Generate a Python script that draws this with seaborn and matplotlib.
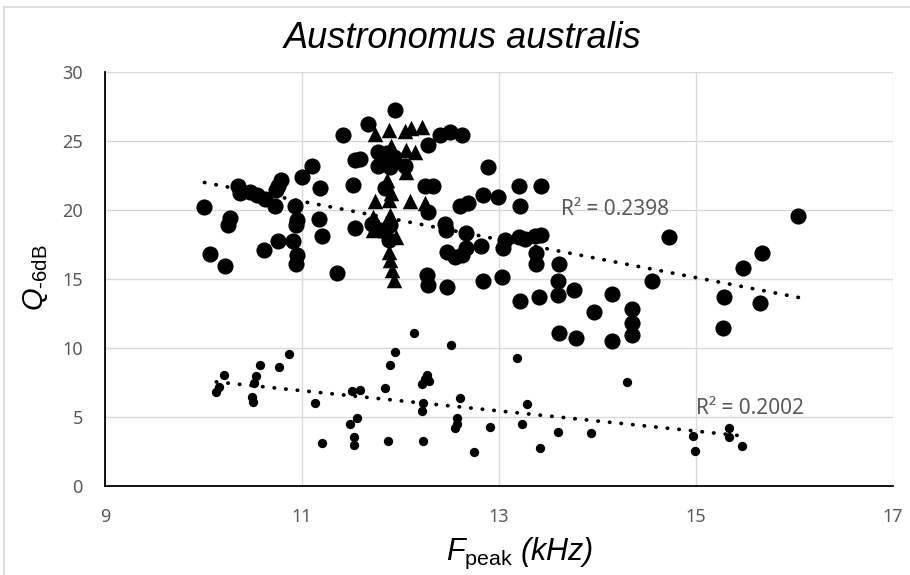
import numpy as np
import matplotlib
matplotlib.use('Agg')
import matplotlib.pyplot as plt
import seaborn as sns
from matplotlib.lines import Line2D

# large circles
big_x = [10.01, 10.07, 10.22, 10.27, 10.25, 10.35, 10.37, 10.47, 10.54, 10.62,
         10.73, 10.61, 10.76, 10.91, 10.79, 10.76, 10.74, 10.93, 10.95, 10.94,
         10.95, 10.94, 11.00, 11.10, 11.18, 11.17, 11.20, 11.36, 11.42, 11.54,
         11.59, 11.52, 11.54, 11.67, 11.94,
         11.77, 11.86, 11.93, 11.77, 11.89, 12.05, 11.84, 11.71, 11.89, 11.79,
         11.88, 12.28, 12.40, 12.50, 12.62, 12.25, 12.33, 12.28, 12.45, 12.46,
         12.47, 12.55, 12.27, 12.28, 12.47,
         12.89, 12.60, 12.69, 12.84, 12.99, 13.20, 13.21, 13.43, 12.67, 12.62,
         12.82, 12.67, 13.06, 13.20, 13.26, 13.37, 13.43, 13.38, 13.38, 13.61,
         13.03, 12.84, 13.60, 13.60, 13.76, 13.21, 13.41, 14.15, 13.96, 14.35,
         14.35, 14.35, 13.61, 13.78, 14.15, 14.55, 14.73, 15.28, 15.27, 15.48,
         15.65, 15.67, 16.04, 13.04]
big_y = [20.2, 16.8, 15.9, 19.4, 18.9, 21.7, 21.2, 21.3, 21.1, 20.8,
         20.3, 17.1, 17.7, 17.7, 22.15, 21.7, 21.4, 20.3, 19.25, 18.9,
         16.7, 16.1, 22.4, 23.2, 21.55, 19.3, 18.1, 15.4, 25.4, 23.6,
         23.7, 21.8, 18.65, 26.2, 27.2,
         24.2, 24.1, 23.85, 23.2, 23.1, 23.2, 21.6, 19.0, 18.9, 18.5,
         17.8, 24.7, 25.4, 25.6, 25.4, 21.7, 21.7, 19.85, 19.0, 18.5,
         16.95, 16.6, 15.3, 14.55, 14.4,
         23.1, 20.3, 20.5, 21.05, 20.95, 21.7, 20.3, 21.7, 18.3, 16.7,
         17.4, 17.2, 17.8, 18.05, 17.9, 18.1, 18.2, 16.85, 16.1, 16.05,
         15.15, 14.8, 14.8, 13.8, 14.2, 13.35, 13.7, 13.9, 12.6, 12.8,
         11.8, 10.9, 11.1, 10.7, 10.5, 14.85, 18.0, 13.7, 11.4, 15.8,
         13.25, 16.85, 19.55, 17.2]

# triangles
tri_x = [11.74, 11.88, 12.05, 12.11, 12.22, 12.06, 12.15, 12.06, 11.86, 11.74,
         11.88, 12.10, 12.25, 11.72, 11.76, 11.72, 11.89, 11.88, 11.89, 11.91,
         11.93, 11.85, 11.90, 11.95, 11.90]
tri_y = [25.5, 25.8, 25.7, 25.9, 26.0, 24.3, 24.2, 22.75, 22.15, 20.6,
         20.7, 20.6, 20.45, 19.5, 19.0, 18.5, 19.6, 16.95, 16.35, 15.6,
         14.9, 23.6, 21.2, 18.0, 24.6]

# small circles
small_x = [10.21, 10.16, 10.13, 10.53, 10.51, 10.49, 10.50, 10.57, 10.77, 10.87,
           11.13, 11.20, 11.51, 11.59, 11.56, 11.49, 11.53, 11.53, 11.84, 11.89,
           11.94, 12.14, 11.87, 12.22, 12.25, 12.27, 12.29, 12.23, 12.22, 12.23,
           12.51, 12.60, 12.57, 12.57, 12.55, 12.75, 12.91, 13.18, 13.28, 13.23,
           13.42, 14.30, 13.60, 13.93, 14.97, 15.34, 15.33, 15.47, 14.99]
small_y = [8.02, 7.17, 6.77, 7.97, 7.42, 6.45, 6.09, 8.75, 8.62, 9.54,
           5.97, 3.1, 6.86, 6.93, 4.93, 4.45, 3.55, 2.95, 7.06, 8.75,
           9.71, 11.04, 3.24, 7.4, 7.7, 8.0, 7.6, 6.0, 5.4, 3.24,
           10.2, 6.33, 4.9, 4.5, 4.15, 2.47, 4.28, 9.28, 5.9, 4.45,
           2.7, 7.54, 3.87, 3.8, 3.6, 4.2, 3.55, 2.88, 2.5]

r2_labels = ['R² = 0.2398', 'R² = 0.2002']

sns.set_theme(style='whitegrid')
plt.rcParams['font.family'] = ['Liberation Sans', 'DejaVu Sans']
plt.rcParams['mathtext.fontset'] = 'custom'
plt.rcParams['mathtext.rm'] = 'Liberation Sans'
plt.rcParams['mathtext.it'] = 'Liberation Sans:italic'

fig = plt.figure(figsize=(9.1, 5.75), dpi=100)
fig.patch.set_facecolor('white')
ax = fig.add_axes([105/910, 1 - 485.7/575, 788/910, 414/575])

sns.scatterplot(x=big_x, y=big_y, marker='o', s=135, color='black', linewidth=0, ax=ax)
sns.scatterplot(x=tri_x, y=tri_y, marker='^', s=125, color='black', linewidth=0, ax=ax)
sns.scatterplot(x=small_x, y=small_y, marker='o', s=45, color='black', linewidth=0, ax=ax)

# dotted linear trendlines
dots = dict(color='black', lw=2.7, linestyle=(0, (0.1, 3.0)), dash_capstyle='round')
sns.regplot(x=np.array(big_x), y=np.array(big_y), scatter=False, ci=None,
            truncate=True, line_kws=dots, ax=ax)
sns.regplot(x=np.array(small_x), y=np.array(small_y), scatter=False, ci=None,
            truncate=True, line_kws=dots, ax=ax)

ax.text(13.63, 20.05, r2_labels[0], color='#595959', fontsize=15,
        family='Noto Sans', va='center', ha='left')
ax.text(15.0, 5.6, r2_labels[1], color='#595959', fontsize=15,
        family='Noto Sans', va='center', ha='left')

ax.set_xlim(9, 17)
ax.set_ylim(0, 30)
ax.set_xticks([9, 11, 13, 15, 17])
ax.set_yticks([0, 5, 10, 15, 20, 25, 30])
ax.grid(True, color='#d9d9d9', lw=1.0)
ax.set_axisbelow(True)
for s in ['top', 'right']:
    ax.spines[s].set_visible(False)
for s in ['left', 'bottom']:
    ax.spines[s].set_color('black')
    ax.spines[s].set_linewidth(1.3)
ax.tick_params(length=0, pad=16, labelsize=13, labelcolor='#595959')
for lab in ax.get_xticklabels() + ax.get_yticklabels():
    lab.set_family('Noto Sans')
ax.set_xlabel('')
ax.set_ylabel('')

fig.text(463/910, 1 - 38/575, 'Austronomus australis', style='italic',
         fontsize=26, ha='center', va='center', color='black')
fig.text(520/910, 1 - 553/575, r'$F_{\mathrm{peak}}$ (kHz)', style='italic',
         fontsize=22, ha='center', va='center', color='black')
fig.text(36/910, 1 - 278/575, r'$Q_{\mathrm{\text{-}6dB}}$', rotation=90,
         fontsize=21, ha='center', va='center', color='black')

# chart area border (top and left edges visible)
fig.add_artist(Line2D([4/910, 4/910], [0, 1 - 7/575], transform=fig.transFigure,
                      color='#d9d9d9', lw=1.2))
fig.add_artist(Line2D([4/910, 1], [1 - 7/575, 1 - 7/575], transform=fig.transFigure,
                      color='#d9d9d9', lw=1.2))

fig.savefig('out.png', dpi=100)
